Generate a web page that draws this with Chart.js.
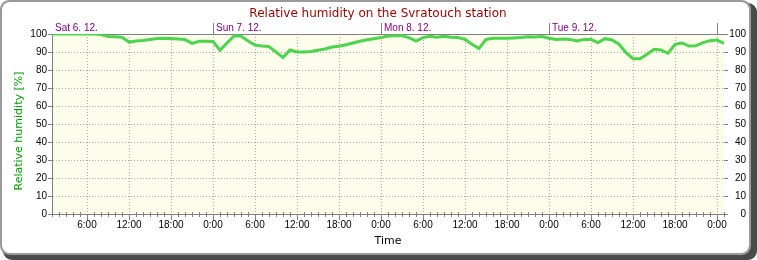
<!DOCTYPE html>
<html><head><meta charset="utf-8">
<script src="https://cdn.jsdelivr.net/npm/chart.js@4/dist/chart.umd.min.js"></script>
<style>html,body{margin:0;padding:0;background:#fff;}canvas{display:block;}</style>
</head><body>
<canvas id="c" width="757" height="260"></canvas>
<script>
// ---- data (hourly samples, first sample Sat 6. 12. 1:00) ----
const startHour = 1;            // hours since Sat 6. 12. 0:00
const humidity = [
 100,100,100,100,100,100,100,99.7,98.6,98.5,98.2,95.5,96.1,96.4,97,97.5,97.6,97.5,97.2,96.9,94.8,96,96,95.8,
 91,95,98.9,98.9,96.1,93.8,93.3,93,90,86.9,91.1,90,90,90.3,91,91.7,92.8,93.2,94,95,96,96.8,97.4,98,
 98.9,99,99,98,96.1,98,98.7,98.2,98.8,98.2,98,97,94.3,91.9,97,97.6,97.6,97.6,97.8,98,98.5,98.3,98.6,97.6,
 97,97.2,97,96.1,97,97,95.2,97.4,96.7,94.3,89.6,86.3,86.3,88.7,91.5,91.1,89.3,94.3,95,93.3,93.5,95.2,96.3,96.6,
 94.8
];
const dayLabels = ['Sat 6. 12.', 'Sun 7. 12.', 'Mon 8. 12.', 'Tue 9. 12.'];
const dayStarts = [0, 24, 48, 72];        // hours
const midnights = [24, 48, 72, 96];       // hours
const xTickHours = [6, 12, 18, 24, 30, 36, 42, 48, 54, 60, 66, 72, 78, 84, 90, 96];
const xTickLabels = ['6:00','12:00','18:00','0:00','6:00','12:00','18:00','0:00','6:00','12:00','18:00','0:00','6:00','12:00','18:00','0:00'];
const xMin = 1, xMax = 97;
const yTicksMin = 0, yTicksMax = 100, yStep = 10;
const titleText = 'Relative humidity on the Svratouch station';
const yTitle = 'Relative humidity [%]';
const xTitle = 'Time';

const points = humidity.map((v, i) => ({x: startHour + i, y: v}));

function rr(ctx, x, y, w, h, r) {
  ctx.beginPath();
  ctx.moveTo(x + r, y);
  ctx.arcTo(x + w, y, x + w, y + h, r);
  ctx.arcTo(x + w, y + h, x, y + h, r);
  ctx.arcTo(x, y + h, x, y, r);
  ctx.arcTo(x, y, x + w, y, r);
  ctx.closePath();
}

const deco = {
  id: 'deco',
  beforeDraw(chart) {
    const ctx = chart.ctx, a = chart.chartArea;
    ctx.save();
    ctx.fillStyle = '#ffffff';
    ctx.fillRect(0, 0, 757, 260);
    rr(ctx, 3, 3, 754, 257, 9); ctx.fillStyle = '#4a4a4a'; ctx.fill();
    rr(ctx, 0, 0, 751, 255, 9); ctx.fillStyle = '#9a9a9a'; ctx.fill();
    rr(ctx, 2, 2, 747, 251, 8); ctx.fillStyle = '#ffffff'; ctx.fill();
    // plot background
    ctx.fillStyle = '#fdfdeb';
    ctx.fillRect(a.left, a.top, a.right - a.left, a.bottom - a.top);
    // title
    ctx.fillStyle = '#9b0000';
    ctx.font = '12px "DejaVu Sans"';
    ctx.textAlign = 'center';
    ctx.textBaseline = 'alphabetic';
    ctx.fillText(titleText, 378, 17);
    // y title
    ctx.save();
    ctx.translate(22, 131);
    ctx.rotate(-Math.PI / 2);
    ctx.fillStyle = '#00a000';
    ctx.font = '11px "DejaVu Sans"';
    ctx.textAlign = 'center';
    ctx.textBaseline = 'alphabetic';
    ctx.fillText(yTitle, 0, 0);
    ctx.restore();
    ctx.restore();
  },
  beforeDatasetsDraw(chart) {
    const ctx = chart.ctx, a = chart.chartArea, xs = chart.scales.x;
    ctx.save();
    ctx.strokeStyle = '#808080';
    ctx.lineWidth = 1;
    // top border
    ctx.beginPath();
    ctx.moveTo(a.left, a.top + 0.5);
    ctx.lineTo(a.right + 3, a.top + 0.5);
    ctx.stroke();
    // midnight markers above plot
    midnights.forEach(h => {
      const px = Math.round(xs.getPixelForValue(h)) + 0.5;
      ctx.beginPath();
      ctx.moveTo(px, a.top - 11);
      ctx.lineTo(px, a.top);
      ctx.stroke();
    });
    // minor hourly ticks
    for (let h = Math.ceil(xMin); h <= xMax; h++) {
      if (xTickHours.includes(h)) continue;
      const px = Math.round(xs.getPixelForValue(h)) + 0.5;
      ctx.beginPath();
      ctx.moveTo(px, a.bottom - 2);
      ctx.lineTo(px, a.bottom + 3);
      ctx.stroke();
    }
    // day labels
    ctx.fillStyle = '#800080';
    ctx.font = '10px "Liberation Sans"';
    ctx.textAlign = 'left';
    ctx.textBaseline = 'alphabetic';
    dayLabels.forEach((t, i) => {
      const px = Math.max(a.left, xs.getPixelForValue(dayStarts[i]));
      ctx.fillText(t, px + 3, a.top - 3);
    });
    ctx.restore();
  }
};

Chart.defaults.font.family = '"Liberation Sans"';
Chart.defaults.font.size = 10;
Chart.defaults.color = '#000000';

new Chart(document.getElementById('c'), {
  type: 'line',
  data: {
    datasets: [{
      data: points,
      borderColor: '#4cd44c',
      borderWidth: 3,
      pointRadius: 0,
      tension: 0,
      fill: false
    }]
  },
  options: {
    responsive: false,
    animation: false,
    devicePixelRatio: 1,
    layout: {padding: {top: 34, left: 0, right: 11, bottom: 0}},
    plugins: {legend: {display: false}, tooltip: {enabled: false}, title: {display: false}},
    scales: {
      x: {
        type: 'linear',
        min: xMin, max: xMax,
        afterFit(s) { s.height = 46; },
        afterBuildTicks(s) { s.ticks = xTickHours.map(v => ({value: v})); },
        ticks: {
          autoSkip: false, maxRotation: 0, padding: -1,
          callback: (v, i) => xTickLabels[i]
        },
        grid: {color: '#a8a8a8', tickColor: '#808080', tickLength: 6, tickBorderDash: []},
        border: {display: true, color: '#808080', width: 1, dash: [1, 2]},
        title: {display: true, text: xTitle, font: {size: 11, family: '"DejaVu Sans"'}, padding: {top: 0, bottom: 12}}
      },
      y: {
        position: 'left',
        min: yTicksMin, max: yTicksMax,
        afterFit(s) { s.width = 52; },
        ticks: {stepSize: yStep, padding: 1},
        grid: {color: '#a8a8a8', tickColor: '#808080', tickLength: 4, tickBorderDash: []},
        border: {display: true, color: '#808080', width: 1, dash: [1, 2]}
      },
      y2: {
        position: 'right',
        min: yTicksMin, max: yTicksMax,
        afterFit(s) { s.width = 22; },
        ticks: {stepSize: yStep, crossAlign: 'far'},
        grid: {drawOnChartArea: false, tickColor: '#808080', tickLength: 4},
        border: {display: false}
      }
    }
  },
  plugins: [deco]
});
</script>
</body></html>
